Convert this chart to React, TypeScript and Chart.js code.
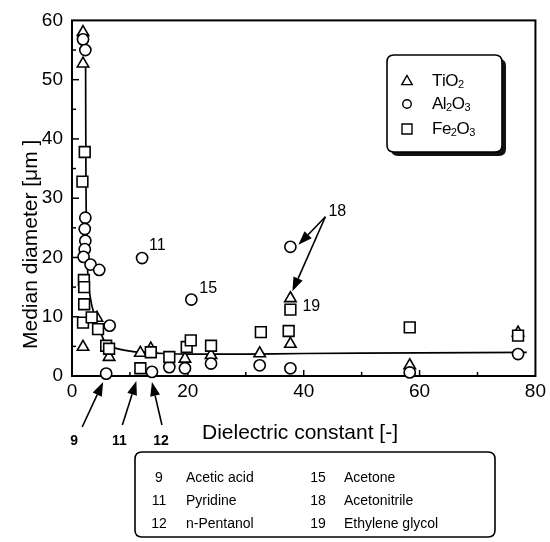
import { useEffect, useRef } from 'react';
import { Chart, registerables } from 'chart.js';

Chart.register(...registerables);

// ---------- data ----------
const xTickValues = [0, 20, 40, 60, 80];
const yTickValues = [0, 10, 20, 30, 40, 50, 60];

const tio2X = [1.9, 1.9, 1.9, 4.3, 6.4, 11.8, 13.6, 19.5, 24.0, 32.4, 37.7, 37.7, 58.3, 77.0];
const tio2Y = [58.0, 52.7, 4.9, 9.8, 3.2, 3.9, 4.6, 2.9, 3.5, 3.8, 13.1, 5.4, 1.8, 7.3];

const al2o3X = [1.9, 2.3, 2.3, 2.2, 2.3, 2.2, 2.0, 3.2, 4.7, 6.5, 5.9, 12.1, 13.8, 16.8, 19.5, 20.6, 24.0, 32.4, 37.7, 37.7, 58.3, 77.0];
const al2o3Y = [56.8, 55.0, 26.7, 24.8, 22.8, 21.4, 20.1, 18.8, 17.9, 8.5, 0.4, 19.9, 0.7, 1.5, 1.3, 12.9, 2.1, 1.8, 1.3, 21.8, 0.6, 3.7];

const fe2o3X = [2.2, 1.8, 2.05, 2.1, 2.1, 1.9, 3.4, 4.5, 5.9, 6.4, 11.8, 13.6, 16.8, 19.8, 20.5, 24.0, 32.6, 37.4, 37.7, 58.3, 77.0];
const fe2o3Y = [37.8, 32.8, 16.2, 15.0, 12.1, 9.0, 9.9, 7.9, 5.1, 4.6, 1.3, 4.0, 3.2, 4.9, 6.0, 5.1, 7.4, 7.6, 11.2, 8.2, 6.8];

// guide curve drawn through the data
const curveX = [2.35, 2.4, 2.5, 2.8, 3.4, 4.2, 5.0, 5.9, 7.5, 10, 12, 16, 20, 30, 40, 60, 78.5];
const curveY = [52.5, 35, 25, 16, 12, 9.3, 7.2, 5.4, 4.7, 4.2, 4.0, 3.8, 3.7, 3.7, 3.8, 3.9, 4.0];

const seriesLabels = ['TiO2', 'Al2O3', 'Fe2O3'];

const solventIds = ['9', '11', '12', '15', '18', '19'];
const solventNames = ['Acetic acid', 'Pyridine', 'n-Pentanol', 'Acetone', 'Acetonitrile', 'Ethylene glycol'];

const FONT = '"Liberation Sans", Arial, Helvetica, sans-serif';

function pts(xs: number[], ys: number[]) {
  return xs.map((x, i) => ({ x, y: ys[i] }));
}

function drawArrow(ctx: CanvasRenderingContext2D, x1: number, y1: number, x2: number, y2: number) {
  const ang = Math.atan2(y2 - y1, x2 - x1);
  const hl = 14;
  const hw = 5;
  const bx = x2 - hl * Math.cos(ang);
  const by = y2 - hl * Math.sin(ang);
  ctx.beginPath();
  ctx.moveTo(x1, y1);
  ctx.lineTo(bx, by);
  ctx.stroke();
  ctx.beginPath();
  ctx.moveTo(x2, y2);
  ctx.lineTo(bx + hw * Math.sin(ang), by - hw * Math.cos(ang));
  ctx.lineTo(bx - hw * Math.sin(ang), by + hw * Math.cos(ang));
  ctx.closePath();
  ctx.fill();
}

function drawChem(ctx: CanvasRenderingContext2D, text: string, x: number, y: number) {
  let cx = x;
  for (const ch of text) {
    if (/[0-9]/.test(ch)) {
      ctx.font = `11px ${FONT}`;
      ctx.fillText(ch, cx, y + 4);
      cx += ctx.measureText(ch).width - 0.5;
    } else {
      ctx.font = `17px ${FONT}`;
      ctx.fillText(ch, cx, y);
      cx += ctx.measureText(ch).width - 0.5;
    }
  }
}

function symbol(ctx: CanvasRenderingContext2D, kind: number, x: number, y: number, s: number) {
  ctx.beginPath();
  if (kind === 0) {
    ctx.moveTo(x, y - s);
    ctx.lineTo(x + s * 0.95, y + s * 0.65);
    ctx.lineTo(x - s * 0.95, y + s * 0.65);
    ctx.closePath();
  } else if (kind === 1) {
    ctx.arc(x, y, s * 0.85, 0, Math.PI * 2);
  } else {
    ctx.rect(x - s, y - s, 2 * s, 2 * s);
  }
  ctx.fillStyle = '#fff';
  ctx.fill();
  ctx.stroke();
}

function roundRect(ctx: CanvasRenderingContext2D, x: number, y: number, w: number, h: number, r: number) {
  ctx.beginPath();
  ctx.moveTo(x + r, y);
  ctx.lineTo(x + w - r, y);
  ctx.quadraticCurveTo(x + w, y, x + w, y + r);
  ctx.lineTo(x + w, y + h - r);
  ctx.quadraticCurveTo(x + w, y + h, x + w - r, y + h);
  ctx.lineTo(x + r, y + h);
  ctx.quadraticCurveTo(x, y + h, x, y + h - r);
  ctx.lineTo(x, y + r);
  ctx.quadraticCurveTo(x, y, x + r, y);
  ctx.closePath();
}

const decor = {
  id: 'decor',
  beforeDatasetsDraw(chart: any) {
    const { ctx, chartArea: a, scales } = chart;
    const xs = scales.x;
    const ys = scales.y;
    ctx.save();
    ctx.strokeStyle = '#000';
    ctx.lineWidth = 2;
    ctx.strokeRect(a.left, a.top, a.right - a.left, a.bottom - a.top);
    ctx.lineWidth = 1.5;
    for (let v = 5; v < 60; v += 5) {
      const py = ys.getPixelForValue(v);
      const len = v % 10 === 0 ? 7 : 4;
      ctx.beginPath();
      ctx.moveTo(a.left, py);
      ctx.lineTo(a.left + len, py);
      ctx.stroke();
    }
    for (let v = 10; v < 80; v += 10) {
      const px = xs.getPixelForValue(v);
      const len = v % 20 === 0 ? 6 : 4;
      ctx.beginPath();
      ctx.moveTo(px, a.bottom);
      ctx.lineTo(px, a.bottom - len);
      ctx.stroke();
    }
    ctx.restore();
  },
  afterDraw(chart: any) {
    const { ctx, chartArea: a, scales } = chart;
    const xs = scales.x;
    const ys = scales.y;
    const P = (x: number, y: number) => [xs.getPixelForValue(x), ys.getPixelForValue(y)];
    ctx.save();
    ctx.fillStyle = '#000';
    ctx.strokeStyle = '#000';

    // axis titles
    ctx.font = `21px ${FONT}`;
    ctx.textAlign = 'center';
    ctx.textBaseline = 'middle';
    ctx.fillText('Dielectric constant [-]', 300, 433);
    ctx.save();
    ctx.translate(31, 349);
    ctx.rotate(-Math.PI / 2);
    ctx.textAlign = 'left';
    ctx.fillText('Median diameter [μm ]', 0, 0);
    ctx.restore();

    // in-plot labels
    ctx.font = `16px ${FONT}`;
    ctx.textAlign = 'left';
    const [p11x, p11y] = P(al2o3X[11], al2o3Y[11]);
    ctx.fillText(solventIds[1], p11x + 7, p11y - 12);
    const [p15x, p15y] = P(al2o3X[15], al2o3Y[15]);
    ctx.fillText(solventIds[3], p15x + 8, p15y - 11);
    const [t19x, t19y] = P(tio2X[10], tio2Y[10]);
    ctx.fillText(solventIds[5], t19x + 12, t19y + 8);
    const [c18x, c18y] = P(al2o3X[19], al2o3Y[19]);
    ctx.fillText(solventIds[4], t19x + 38, c18y - 35);

    // 18 arrows
    ctx.lineWidth = 1.6;
    drawArrow(ctx, t19x + 35, c18y - 30, c18x + 8, c18y - 2);
    drawArrow(ctx, t19x + 35, c18y - 30, t19x + 2, t19y - 7);

    // bottom arrows
    ctx.font = `bold 14px ${FONT}`;
    ctx.textAlign = 'center';
    const [a9x] = P(al2o3X[10], 0);
    drawArrow(ctx, a9x - 24, a.bottom + 51, a9x - 3, a.bottom + 6);
    ctx.fillText(solventIds[0], a9x - 32, a.bottom + 65);
    const [a11x] = P(fe2o3X[10], 0);
    drawArrow(ctx, a11x - 18, a.bottom + 49, a11x - 4, a.bottom + 5);
    ctx.fillText(solventIds[1], a11x - 21, a.bottom + 65);
    const [a12x] = P(al2o3X[12], 0);
    drawArrow(ctx, a12x + 10, a.bottom + 49, a12x, a.bottom + 6);
    ctx.fillText(solventIds[2], a12x + 9, a.bottom + 65);

    // series legend (top-right)
    const lx = 387, ly = 55, lw = 115, lh = 97;
    ctx.fillStyle = '#111';
    roundRect(ctx, lx + 4, ly + 4, lw, lh, 7);
    ctx.fill();
    ctx.fillStyle = '#fff';
    roundRect(ctx, lx, ly, lw, lh, 7);
    ctx.fill();
    ctx.lineWidth = 1.6;
    ctx.stroke();
    const rowY = [81, 104, 129];
    ctx.lineWidth = 1.4;
    for (let i = 0; i < 3; i++) {
      symbol(ctx, i, 407, rowY[i], i === 0 ? 5.5 : 5);
      ctx.fillStyle = '#000';
      ctx.textAlign = 'left';
      ctx.textBaseline = 'middle';
      drawChem(ctx, seriesLabels[i], 432, rowY[i]);
    }

    // solvent key (bottom)
    ctx.lineWidth = 1.6;
    ctx.strokeStyle = '#000';
    roundRect(ctx, 135, 452, 360, 85, 7);
    ctx.stroke();
    ctx.fillStyle = '#000';
    ctx.font = `14px ${FONT}`;
    const keyRows = [478, 501, 524];
    for (let i = 0; i < solventIds.length; i++) {
      const col = Math.floor(i / 3);
      const row = i % 3;
      ctx.textAlign = 'center';
      ctx.fillText(solventIds[i], col === 0 ? 159 : 318, keyRows[row]);
      ctx.textAlign = 'left';
      ctx.fillText(solventNames[i], col === 0 ? 186 : 344, keyRows[row]);
    }
    ctx.restore();
  },
};

export default function App() {
  const ref = useRef<HTMLCanvasElement>(null);
  useEffect(() => {
    if (!ref.current) return;
    const common = {
      showLine: false,
      backgroundColor: '#fff',
      borderColor: '#000',
      borderWidth: 1.6,
      clip: false as any,
    };
    const chart = new Chart(ref.current, {
      type: 'scatter',
      data: {
        datasets: [
          {
            label: 'curve',
            data: pts(curveX, curveY),
            showLine: true,
            pointRadius: 0,
            borderColor: '#000',
            borderWidth: 1.7,
            tension: 0.3,
            order: 4,
          } as any,
          { ...common, label: seriesLabels[0], data: pts(tio2X, tio2Y), pointStyle: 'triangle', pointRadius: 6.6, order: 3 },
          { ...common, label: seriesLabels[1], data: pts(al2o3X, al2o3Y), pointStyle: 'circle', pointRadius: 5.6, order: 2 },
          { ...common, label: seriesLabels[2], data: pts(fe2o3X, fe2o3Y), pointStyle: 'rect', pointRadius: 7.6, order: 1 },
        ],
      },
      options: {
        animation: false,
        responsive: false,
        devicePixelRatio: 1,
        layout: { padding: { top: 15, right: 10, left: 0, bottom: 0 } },
        plugins: { legend: { display: false }, tooltip: { enabled: false } },
        scales: {
          x: {
            type: 'linear',
            min: 0,
            max: 80,
            afterBuildTicks: (s: any) => { s.ticks = xTickValues.map((v) => ({ value: v })); },
            afterFit: (s: any) => { s.height = 166; },
            ticks: { color: '#000', font: { size: 19, family: FONT }, padding: 4, maxRotation: 0 },
            grid: { display: false, drawTicks: false },
            border: { display: false },
          },
          y: {
            type: 'linear',
            min: 0,
            max: 60,
            afterBuildTicks: (s: any) => { s.ticks = yTickValues.map((v) => ({ value: v })); },
            afterFit: (s: any) => { s.width = 72; },
            ticks: { color: '#000', font: { size: 19, family: FONT }, padding: 9 },
            grid: { display: false, drawTicks: false },
            border: { display: false },
          },
        },
      } as any,
      plugins: [decor],
    });
    return () => chart.destroy();
  }, []);
  return (
    <div style={{ position: 'absolute', left: 0, top: 0, width: 550, height: 542, background: '#fff' }}>
      <canvas ref={ref} width={550} height={542} style={{ display: 'block', width: 550, height: 542 }} />
    </div>
  );
}
